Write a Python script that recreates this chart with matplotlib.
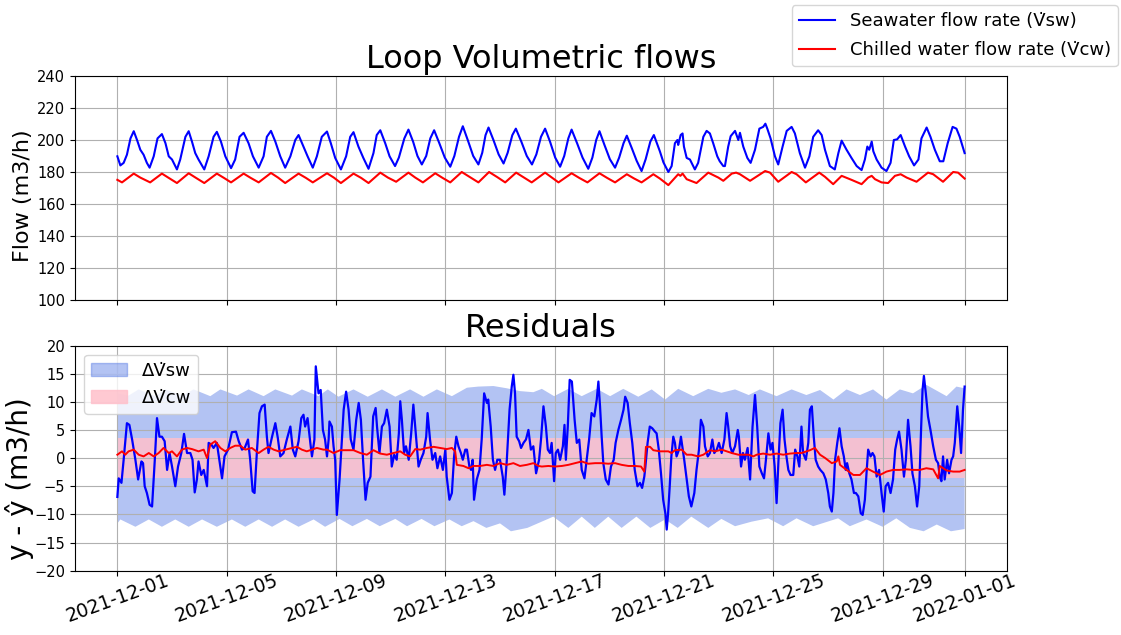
import numpy as np
import pandas as pd
import matplotlib
matplotlib.use('Agg')
import matplotlib.pyplot as plt
import matplotlib.dates as mdates
from matplotlib.patches import Patch
from matplotlib.lines import Line2D

# start of the record, all times below are in days after it
t0 = pd.Timestamp('2021-12-01')

# --- loop flows (m3/h) ---
sw_days = [0.0, 0.11, 0.23, 0.35, 0.48, 0.6, 0.72, 0.84, 0.96, 1.08, 1.18, 1.33, 1.47, 1.63, 1.76, 1.88, 2.0,
           2.18, 2.3, 2.49, 2.61, 2.73, 2.85, 2.97, 3.18, 3.34, 3.52, 3.64, 3.79, 3.95, 4.16, 4.31, 4.47, 4.62,
           4.8, 4.96, 5.17, 5.35, 5.47, 5.62, 5.78, 5.96, 6.14, 6.33, 6.51, 6.63, 6.81, 6.96, 7.15, 7.3, 7.48,
           7.67, 7.81, 7.97, 8.18, 8.37, 8.52, 8.64, 8.82, 9.0, 9.19, 9.37, 9.49, 9.62, 9.8, 9.96,
           10.16, 10.3, 10.5, 10.65, 10.82, 10.98, 11.14, 11.3, 11.45, 11.59, 11.78, 11.98, 12.18, 12.33, 12.5,
           12.64, 12.82, 13.02, 13.21, 13.35, 13.47, 13.58, 13.76, 13.95, 14.13, 14.28, 14.45, 14.58, 14.78,
           14.98, 15.17, 15.33, 15.5, 15.65, 15.83, 16.02, 16.2, 16.35, 16.5, 16.62, 16.82, 17.02, 17.23, 17.38,
           17.52, 17.64, 17.82, 18.02, 18.21, 18.36, 18.52, 18.64, 18.82, 19.0, 19.18, 19.33, 19.5, 19.63,
           19.85, 19.98, 20.16, 20.28, 20.4, 20.49, 20.52, 20.61, 20.68, 20.73, 20.83, 20.95, 21.13, 21.25,
           21.44, 21.56, 21.68, 21.8, 21.95, 22.04, 22.17, 22.23, 22.35, 22.44, 22.6, 22.72, 22.78, 22.9, 23.05,
           23.17, 23.33, 23.49, 23.63, 23.71, 23.78, 23.9, 24.06, 24.18, 24.34, 24.49, 24.67, 24.79, 24.97,
           25.16, 25.32, 25.46, 25.64, 25.77, 25.89, 26.07, 26.25, 26.38, 26.5, 26.68, 26.86, 27.05, 27.23,
           27.35, 27.44, 27.51, 27.6, 27.66, 27.78, 27.96, 28.14, 28.29, 28.41, 28.53, 28.66, 28.82, 28.97,
           29.15, 29.31, 29.42, 29.61, 29.75, 29.91, 30.09, 30.22, 30.38, 30.56, 30.7, 30.82, 31.0]
sw_flow = [189.8, 184.1, 185.7, 190.8, 201.0, 205.5, 200.0, 193.9, 190.8, 185.7, 182.7, 189.8, 201.0, 203.7,
           198.0, 189.8, 187.8, 181.6, 187.8, 202.0, 205.5, 199.0, 191.8, 187.8, 181.6, 189.8, 202.0, 205.1,
           199.0, 189.8, 182.4, 187.8, 202.0, 204.5, 198.0, 189.8, 182.7, 189.8, 202.0, 205.7, 199.0, 189.8,
           182.7, 189.8, 200.0, 203.1, 195.9, 189.8, 182.7, 189.8, 202.0, 205.3, 198.0, 188.8, 181.6, 189.8,
           202.0, 204.9, 195.9, 188.8, 182.0, 191.8, 203.1, 206.1, 198.0, 189.8,
           183.7, 189.0, 201.0, 206.5, 199.0, 190.0, 184.7, 190.0, 201.0, 206.1, 198.0, 189.0, 183.3, 190.0,
           202.0, 208.6, 200.0, 190.0, 184.7, 192.0, 203.0, 207.8, 200.0, 191.0, 185.3, 192.0, 203.0, 207.1,
           199.0, 190.0, 184.7, 191.0, 202.0, 207.1, 199.0, 189.0, 183.3, 190.0, 201.0, 206.5, 198.0, 189.0,
           182.0, 189.0, 200.0, 205.5, 197.0, 188.0, 182.7, 189.0, 198.0, 202.7, 195.0, 187.0, 180.6, 188.0,
           199.0, 203.1, 192.9, 186.0, 180.0, 183.7, 198.0, 200.0, 196.9, 203.1, 204.1, 195.9, 188.8, 187.8,
           181.6, 185.7, 202.0, 205.7, 204.1, 198.0, 189.8, 186.7, 183.7, 183.7, 195.9, 202.4, 205.7, 200.0,
           204.5, 195.9, 188.8, 185.7, 193.9, 207.1, 208.2, 210.2, 207.1, 201.0, 189.8, 184.7, 195.9, 205.7,
           208.2, 204.1, 191.8, 182.7, 189.8, 202.0, 206.1, 203.1, 193.9, 183.7, 181.6, 191.8, 199.6, 193.9,
           188.8, 183.7, 181.2, 187.8, 195.9, 193.9, 199.0, 192.9, 187.8, 182.7, 180.6, 185.7, 200.0, 200.4,
           203.1, 195.9, 189.8, 184.1, 187.8, 201.0, 207.8, 202.0, 193.9, 186.7, 186.7, 198.0, 208.2, 207.1,
           202.0, 191.8]

cw_days = [0.0, 0.17, 0.6, 0.84, 1.2, 1.63, 1.88, 2.18, 2.61, 2.86, 3.18, 3.64, 3.9, 4.16, 4.62, 4.88, 5.17,
           5.62, 5.88, 6.14, 6.63, 6.9, 7.15, 7.67, 7.92, 8.18, 8.64, 8.92, 9.19, 9.62, 9.9, 10.2, 10.65, 10.9,
           11.18, 11.63, 11.9, 12.18, 12.6, 12.9, 13.21, 13.6, 13.9, 14.19, 14.59, 14.88, 15.16, 15.65, 15.9,
           16.14, 16.62, 16.9, 17.2, 17.64, 17.92, 18.21, 18.64, 18.9, 19.18, 19.61, 19.85, 20.16, 20.52, 20.6,
           20.68, 20.83, 21.19, 21.62, 21.99, 22.17, 22.48, 22.64, 22.78, 23.15, 23.7, 23.88, 24.18, 24.67,
           24.85, 25.19, 25.68, 25.89, 26.19, 26.5, 26.86, 27.23, 27.47, 27.6, 27.72, 27.96, 28.2, 28.45,
           28.66, 28.88, 29.24, 29.66, 29.85, 30.21, 30.58, 30.76, 31.0]
cw_flow = [175.1, 173.5, 179.0, 176.5, 173.5, 179.0, 176.3, 173.1, 179.2, 176.5, 173.1, 179.0, 176.3, 173.5,
           179.0, 176.3, 173.5, 179.4, 176.5, 173.1, 179.0, 176.3, 173.5, 179.2, 176.5, 173.1, 179.0, 176.3,
           173.1, 179.6, 176.5, 173.9, 179.6, 176.5, 173.5, 179.2, 176.3, 173.5, 180.0, 176.8, 173.5, 180.0,
           176.8, 173.5, 179.6, 176.5, 173.5, 179.6, 176.5, 173.5, 179.2, 176.3, 173.5, 179.2, 176.3, 173.5,
           178.6, 176.0, 173.5, 178.6, 175.9, 171.8, 178.6, 177.6, 179.0, 175.5, 173.1, 179.6, 176.5, 174.5,
           179.0, 179.6, 178.6, 174.5, 180.6, 179.6, 173.9, 180.0, 178.6, 173.5, 179.6, 177.0, 172.4, 177.6,
           175.1, 172.4, 176.5, 177.6, 175.5, 173.5, 173.1, 177.6, 178.6, 176.5, 173.9, 179.6, 178.6, 173.9,
           180.0, 179.6, 175.9]

# --- residuals y - y_hat (m3/h) ---
res_sw_days = [0.0, 0.05, 0.15, 0.23, 0.35, 0.44, 0.54, 0.66, 0.76, 0.88, 0.94, 1.0, 1.08, 1.18, 1.27, 1.37,
               1.45, 1.54, 1.63, 1.73, 1.82, 1.91, 2.0, 2.12, 2.22, 2.34, 2.44, 2.55, 2.67, 2.75, 2.83, 2.91,
               2.97, 3.07, 3.16, 3.28, 3.34, 3.44, 3.52, 3.64, 3.73, 3.83, 3.92, 4.05, 4.13, 4.19, 4.34, 4.44,
               4.56, 4.66, 4.78, 4.86, 4.95, 5.02, 5.11, 5.2, 5.29, 5.39, 5.47, 5.53, 5.66, 5.78, 5.87, 5.96,
               6.08, 6.2, 6.33, 6.42, 6.51, 6.63, 6.73, 6.81, 6.87, 6.96, 7.06, 7.12, 7.21, 7.26, 7.36, 7.44,
               7.52, 7.6, 7.67, 7.73, 7.76, 7.85, 7.91, 7.97, 8.03, 8.13, 8.18, 8.28, 8.37, 8.46, 8.54, 8.64,
               8.74, 8.83, 8.91, 8.99, 9.08, 9.16, 9.26, 9.36, 9.45, 9.5, 9.59, 9.68, 9.76, 9.86, 9.96, 10.04,
               10.13, 10.22, 10.3, 10.35, 10.41, 10.49, 10.56, 10.66, 10.75, 10.83, 10.93, 11.02, 11.1, 11.2,
               11.3, 11.35, 11.44, 11.53, 11.63, 11.71, 11.81, 11.91, 12.0, 12.05, 12.15, 12.24, 12.32, 12.4,
               12.48, 12.57, 12.64, 12.73, 12.79, 12.88, 12.94, 13.0, 13.05, 13.15, 13.25, 13.33, 13.42, 13.52,
               13.57, 13.66, 13.74, 13.82, 13.9, 14.0, 14.1, 14.16, 14.25, 14.35, 14.43, 14.49, 14.55, 14.61,
               14.7, 14.77, 14.86, 14.95, 15.04, 15.13, 15.22, 15.32, 15.43, 15.5, 15.59, 15.68, 15.75, 15.83,
               15.89, 15.98, 16.04, 16.12, 16.2, 16.3, 16.36, 16.41, 16.48, 16.55, 16.63, 16.73, 16.81, 16.9,
               16.99, 17.09, 17.17, 17.26, 17.35, 17.45, 17.54, 17.6, 17.66, 17.72, 17.78, 17.87, 17.97, 18.06,
               18.16, 18.23, 18.33, 18.43, 18.52, 18.58, 18.67, 18.75, 18.84, 18.93, 19.03, 19.12, 19.2, 19.28,
               19.32, 19.4, 19.48, 19.57, 19.67, 19.73, 19.81, 19.89, 19.97, 20.05, 20.1, 20.15, 20.21, 20.27,
               20.34, 20.4, 20.46, 20.55, 20.62, 20.67, 20.74, 20.83, 20.91, 21.0, 21.11, 21.19, 21.28, 21.35,
               21.44, 21.5, 21.6, 21.68, 21.77, 21.84, 21.93, 22.01, 22.11, 22.21, 22.29, 22.35, 22.42, 22.5,
               22.6, 22.7, 22.74, 22.82, 22.89, 22.96, 23.06, 23.15, 23.24, 23.33, 23.41, 23.49, 23.58, 23.66,
               23.73, 23.82, 23.9, 23.97, 24.05, 24.12, 24.19, 24.26, 24.34, 24.41, 24.48, 24.55, 24.63, 24.73,
               24.8, 24.88, 24.95, 25.03, 25.09, 25.19, 25.28, 25.34, 25.41, 25.48, 25.55, 25.64, 25.72, 25.83,
               25.92, 26.01, 26.07, 26.14, 26.2, 26.26, 26.34, 26.42, 26.5, 26.58, 26.65, 26.7, 26.78, 26.86,
               26.95, 27.02, 27.11, 27.2, 27.27, 27.35, 27.41, 27.47, 27.56, 27.63, 27.7, 27.78, 27.87, 27.96,
               28.04, 28.11, 28.2, 28.29, 28.38, 28.46, 28.53, 28.6, 28.69, 28.78, 28.85, 28.93, 29.02, 29.09,
               29.18, 29.26, 29.34, 29.41, 29.46, 29.51, 29.58, 29.66, 29.75, 29.85, 29.95, 30.03, 30.09, 30.15,
               30.21, 30.27, 30.36, 30.43, 30.52, 30.58, 30.64, 30.73, 30.8, 30.87, 30.94, 31.0]
res_sw = [-6.9, -3.6, -4.4, -0.3, 6.2, 5.9, 3.3, -0.3, -3.8, -0.6, -0.9, -5.0, -6.2, -8.3, -8.6, -0.3,
          7.1, 3.8, 3.8, 3.0, -2.1, 0.9, -1.5, -5.0, -1.5, 0.9, 4.3, 0.9, 0.9, -0.3, -6.1, -3.8,
          -0.6, -3.0, -2.1, -5.0, 2.7, 2.4, 1.8, 2.7, -0.3, -3.6, 0.3, 1.5, 3.3, 4.6, 4.7, 3.0,
          1.5, 1.8, 3.3, -0.3, -5.9, -6.2, 1.5, 8.0, 9.2, 9.5, 3.8, 0.9, 3.8, 6.2, 3.6, 0.3,
          0.9, 3.3, 5.6, 1.5, 0.3, 3.0, 7.1, 7.7, 5.6, 7.1, 2.7, 0.3, 3.3, 16.3, 11.5, 12.1,
          5.0, 3.3, 0.3, 3.3, 6.5, 5.6, 2.1, -0.3, -10.1, -3.8, 0.3, 8.6, 11.8, 8.6, 3.3, 1.5,
          6.8, 9.8, 6.8, -0.3, -7.4, -4.4, -3.3, 7.4, 8.9, 5.6, 0.9, 5.6, 6.2, 8.6, 5.6, -1.5,
          0.6, -0.3, 4.4, 10.1, 6.8, 0.9, 2.1, -0.3, 4.4, 9.5, 3.8, -1.5, -0.3, 0.9,
          3.8, 8.0, 3.3, -0.3, 0.9, -1.8, 0.3, -2.1, 1.5, -3.3, -7.4, -6.2, 0.3, 3.8,
          2.1, 0.9, -0.3, 1.5, 1.5, -1.5, -2.1, -0.3, -7.4, -3.8, -2.1, 3.3, 11.5, 9.8,
          10.4, 5.6, -0.3, -2.1, -0.3, -0.3, -3.3, -6.5, -0.3, 8.6, 12.7, 14.8, 11.5, 3.8,
          3.0, 1.8, 2.7, 3.3, 5.0, 1.5, 2.1, -2.7, -0.3, 3.3, 9.2, 5.6, 1.5, 0.9,
          2.7, -4.1, 0.9, 1.5, -0.3, 2.1, 5.9, -0.3, 5.6, 13.9, 13.6, 6.8, 2.7, 3.3,
          -2.1, -3.6, -0.3, 3.3, 8.0, 7.4, 10.4, 13.6, 9.2, 3.8, -0.9, -3.8, -4.7, -1.5,
          -0.3, 2.7, 5.0, 6.8, 8.6, 10.9, 9.8, 6.2, 2.7, -2.1, -5.0, -4.4, -5.3, -3.3,
          -1.5, 2.7, 5.6, 5.3, 4.7, 4.4, 1.5, -2.7, -7.4, -9.8, -12.7, -9.8, -5.0, 0.3,
          3.8, 2.7, 0.3, 1.5, 3.8, 2.1, -0.3, -3.8, -6.8, -8.6, -6.2, -2.1, 1.5, 6.8,
          5.6, 2.1, 0.3, 0.9, 3.3, 0.9, 1.5, 2.7, 0.9, 3.3, 8.0, 5.6, 2.1, 0.9,
          2.1, 5.0, 3.8, -1.5, 0.9, -0.3, 1.8, -3.8, 5.6, 11.2, 5.6, -1.5, -2.7, -3.6,
          -0.3, 4.4, 1.5, 2.7, -1.5, -8.0, -0.3, 6.2, 8.6, 3.3, 0.3, -2.1, -3.0, -3.0,
          1.5, 0.3, -1.5, 5.6, 0.9, -0.3, 2.7, 8.6, 9.2, 3.8, -0.3, -1.5, -2.1, -2.7,
          -3.8, -6.2, -8.6, -9.5, -6.2, -0.3, 2.7, 5.3, 2.1, 0.3, -2.1, -0.9, -2.7, -3.8,
          -6.2, -6.2, -6.8, -9.8, -10.1, -7.4, -2.7, 1.5, 0.3, 0.9, 0.3, -3.3, -2.1, -6.2,
          -9.5, -5.0, -4.4, -6.2, -3.8, 1.5, 3.3, 4.7, 1.5, -3.3, -0.3, 6.8, 2.1, -2.7,
          -5.0, -8.6, -5.0, 5.6, 12.1, 14.6, 11.5, 7.4, 5.0, 2.1, -0.3, -0.9, -3.3, -4.1,
          0.3, -3.8, -0.3, -2.7, -0.3, 0.3, 2.7, 9.2, 5.6, 0.9, 8.6, 12.7]

res_cw_days = [0.0, 0.17, 0.29, 0.41, 0.6, 0.78, 0.96, 1.15, 1.33, 1.51, 1.69, 1.88, 2.0, 2.18, 2.36, 2.55,
               2.73, 2.97, 3.16, 3.28, 3.4, 3.58, 3.77, 3.95, 4.13, 4.31, 4.5, 4.68, 4.92, 5.17, 5.35, 5.53,
               5.72, 5.9, 6.14, 6.39, 6.57, 6.75, 6.93, 7.12, 7.3, 7.54, 7.67, 7.91, 8.15, 8.4, 8.64, 8.89,
               9.13, 9.37, 9.62, 9.86, 10.1, 10.35, 10.53, 10.71, 10.9, 11.08, 11.32, 11.57, 11.81, 12.05,
               12.24, 12.36, 12.42, 12.66, 12.85, 13.03, 13.27, 13.52, 13.76, 14.0, 14.25, 14.49, 14.73,
               14.98, 15.22, 15.41, 15.53, 15.77, 16.01, 16.26, 16.5, 16.74, 16.99, 17.23, 17.48, 17.72,
               17.96, 18.21, 18.45, 18.7, 18.94, 19.16, 19.28, 19.34, 19.49, 19.61, 19.85, 20.16, 20.28,
               20.4, 20.65, 20.83, 21.01, 21.25, 21.44, 21.68, 21.87, 22.11, 22.29, 22.48, 22.72, 22.9,
               23.09, 23.27, 23.39, 23.63, 23.88, 24.12, 24.36, 24.61, 24.85, 25.03, 25.21, 25.34, 25.52,
               25.71, 25.9, 26.14, 26.32, 26.38, 26.44, 26.68, 26.93, 27.17, 27.41, 27.65, 27.9, 28.14,
               28.38, 28.63, 28.87, 29.11, 29.36, 29.6, 29.85, 30.03, 30.09, 30.34, 30.58, 30.82, 31.0]
res_cw = [0.6, 1.2, 0.6, 1.2, 1.5, 0.6, 0.3, 0.9, 0.3, 0.9, 1.8, 0.9, 1.2, 0.3, 1.5, 1.8,
          1.6, 1.2, 1.5, 0.0, 2.4, 3.0, 1.8, 1.2, 1.8, 2.2, 2.2, 1.5, 1.8, 0.9, 1.5, 2.0,
          1.5, 1.2, 1.5, 1.8, 2.0, 1.5, 1.2, 1.5, 1.8, 1.5, 1.5, 0.9, 1.4, 1.4, 1.4, 0.9,
          0.6, 1.4, 0.8, 0.6, 0.9, 1.2, 0.6, 0.3, 1.6, 1.5, 1.8, 2.0, 1.8, 1.6,
          1.8, 1.2, -1.2, -1.4, -1.8, -1.4, -1.4, -1.2, -1.4, -0.9, -1.2, -0.9, -1.4,
          -1.2, -0.9, -1.4, -1.5, -1.4, -1.5, -1.4, -1.2, -0.9, -0.6, -1.0, -0.9, -0.9,
          -1.0, -0.9, -1.2, -1.4, -1.4, -1.5, -2.4, 2.0, 2.0, 1.4, 1.2, 1.2, 0.9,
          1.4, 1.5, 0.6, 0.6, 0.3, 0.6, 1.4, 1.2, 1.5, 1.2, 0.9, 0.6, 0.6,
          0.6, 0.3, 0.6, 0.8, 0.6, 0.8, 0.6, 0.8, 0.9, 0.9, 1.2, 1.4, 1.8,
          0.6, 0.0, -0.9, -0.6, 0.3, -1.2, -2.1, -3.0, -3.0, -1.8, -2.4, -3.0, -2.4,
          -2.1, -2.1, -2.0, -2.1, -2.1, -1.8, -2.0, -3.6, -1.4, -2.2, -2.4, -2.4, -2.1]

# uncertainty bands of the residuals
sw_band_hi_days = [0.0, 0.41, 0.78, 1.39, 1.76, 2.37, 2.79, 3.4, 3.77, 4.38, 4.8, 5.35, 5.78, 6.39, 6.75,
                   7.36, 7.7, 8.09, 8.64, 9.16, 9.68, 10.17, 10.71, 11.2, 11.69, 12.24, 12.79, 13.2, 13.76,
                   14.25, 14.73, 15.22, 15.53, 15.98, 16.5, 16.99, 17.54, 18.03, 18.51, 19.06, 19.55, 20.04,
                   20.52, 21.07, 21.62, 22.1, 22.6, 23.1, 23.51, 24.12, 24.67, 25.21, 25.71, 26.2, 26.68,
                   27.17, 27.65, 28.14, 28.63, 29.11, 29.6, 30.34, 30.7, 31.0]
sw_band_hi = [11.5, 11.1, 12.2, 11.0, 12.2, 11.1, 12.2, 11.0, 12.2, 11.1, 12.2, 11.0, 12.2, 11.1, 12.2,
              11.0, 12.2, 10.9, 12.2, 10.9, 12.2, 10.9, 12.2, 10.9, 12.2, 11.0, 12.5, 12.7, 12.8,
              12.4, 11.9, 11.7, 12.3, 11.0, 12.3, 11.0, 12.3, 11.0, 12.3, 10.9, 12.2, 10.4,
              12.3, 11.0, 12.3, 11.6, 12.2, 11.2, 12.2, 11.0, 12.2, 11.2, 12.1, 10.4, 12.2,
              11.2, 12.2, 10.4, 12.2, 11.5, 13.0, 11.0, 12.7, 12.4]
sw_band_lo_days = [0.0, 0.11, 0.66, 1.15, 1.63, 2.12, 2.61, 3.1, 3.64, 4.19, 4.68, 5.17, 5.66, 6.14, 6.63,
                   7.18, 7.6, 8.13, 8.6, 9.13, 9.6, 10.17, 10.6, 11.13, 11.6, 12.15, 12.6, 13.03, 13.5, 14.0,
                   14.4, 15.0, 15.95, 16.5, 16.99, 17.47, 17.96, 18.45, 18.99, 19.5, 20.04, 20.5, 21.0,
                   21.62, 22.1, 22.6, 23.2, 23.81, 24.36, 24.85, 25.46, 26.37, 26.8, 27.41, 28.0, 28.5,
                   29.0, 29.5, 29.98, 30.5, 31.0]
sw_band_lo = [-11.6, -10.9, -12.2, -10.9, -12.2, -10.9, -12.2, -10.9, -12.2, -10.9, -12.2, -10.9, -12.2,
              -10.9, -12.2, -10.9, -12.2, -10.8, -12.1, -10.8, -12.1, -10.8, -12.1, -10.8, -12.1, -10.9,
              -12.1, -11.2, -12.4, -11.6, -13.0, -12.4, -10.4, -12.4, -10.4, -12.4, -10.4, -12.4, -10.4,
              -12.4, -10.9, -12.4, -10.4, -12.4, -10.8, -12.1, -11.3, -10.7, -12.1, -10.7, -12.1, -10.7,
              -12.1, -10.9, -12.2, -10.7, -12.4, -13.0, -11.8, -13.0, -12.6]
cw_band_days = [0.0, 31.0]
cw_band_hi = [3.55, 3.55]
cw_band_lo = [-3.6, -3.6]


def to_time(days):
    return t0 + pd.to_timedelta(np.asarray(days), unit='D')


fig = plt.figure(figsize=(11.21, 6.35), dpi=100)
ax1 = fig.add_axes([0.0669, 0.5276, 0.8314, 0.3527])
ax2 = fig.add_axes([0.0669, 0.1013, 0.8314, 0.3546], sharex=ax1)

# top: flows
ax1.plot(to_time(sw_days), sw_flow, color='blue', lw=1.5)
ax1.plot(to_time(cw_days), cw_flow, color='red', lw=1.5)
ax1.set_ylim(100, 240)
ax1.set_yticks(np.arange(100, 241, 20))
ax1.set_title('Loop Volumetric flows', fontsize=23)
ax1.set_ylabel('Flow (m3/h)', fontsize=16)
ax1.yaxis.set_label_coords(-0.045, 0.465)
ax1.grid(True)
ax1.tick_params(axis='x', labelbottom=False)
ax1.tick_params(axis='y', labelsize=10.5)

# bottom: residuals
band_t = np.concatenate([to_time(sw_band_hi_days), to_time(sw_band_lo_days)[::-1]])
band_v = np.concatenate([sw_band_hi, sw_band_lo[::-1]])
ax2.fill(band_t, band_v, color='royalblue', alpha=0.4, lw=0)
ax2.fill_between(to_time(cw_band_days), cw_band_lo, cw_band_hi, color='pink', alpha=0.85, lw=0)
ax2.plot(to_time(res_sw_days), res_sw, color='blue', lw=1.6)
ax2.plot(to_time(res_cw_days), res_cw, color='red', lw=1.4)
ax2.set_ylim(-20, 20)
ax2.set_yticks(np.arange(-20, 21, 5))
ax2.set_title('Residuals', fontsize=23)
ax2.set_ylabel('y - ŷ (m3/h)', fontsize=20)
ax2.yaxis.set_label_coords(-0.044, 0.41)
ax2.grid(True)
ax2.tick_params(axis='y', labelsize=10.5)

ax2.xaxis.set_major_locator(mdates.DayLocator(bymonthday=[1, 5, 9, 13, 17, 21, 25, 29]))
ax2.xaxis.set_major_formatter(mdates.DateFormatter('%Y-%m-%d'))
ax2.set_xlim(t0 - pd.Timedelta(days=1.55), t0 + pd.Timedelta(days=32.55))
ax2.tick_params(axis='x', pad=-3)
plt.setp(ax2.get_xticklabels(), rotation=20, fontsize=13.5)

ax2.legend(handles=[Patch(color='royalblue', alpha=0.4, label='\u0394V\u0307sw'),
                    Patch(color='pink', alpha=0.85, label='\u0394V\u0307cw')],
           loc='upper left', fontsize=13)

fig.legend(handles=[Line2D([], [], color='blue', lw=1.5, label='Seawater flow rate (V\u0307sw)'),
                    Line2D([], [], color='red', lw=1.5, label='Chilled water flow rate (V\u0307cw)')],
           loc='upper right', bbox_to_anchor=(1118 / 1121, 1 - 5 / 635), borderaxespad=0,
           fontsize=13, labelspacing=0.6)

fig.savefig('out.png', dpi=100)
